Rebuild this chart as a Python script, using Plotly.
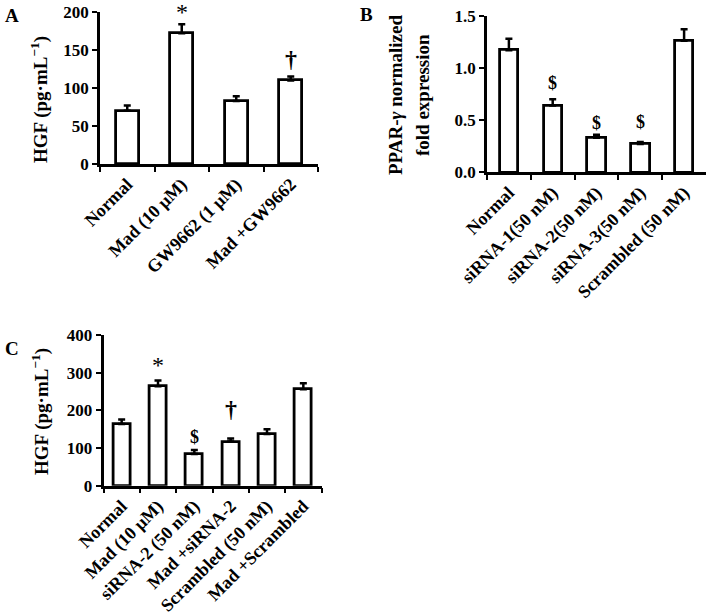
import plotly.graph_objects as go

# ---------------- data ----------------
a_cats = ["Normal", "Mad (10 μM)", "GW9662 (1 μM)", "Mad +GW9662"]
a_vals = [70, 172, 83, 110]
a_errs = [7, 12, 6, 5]

b_cats = ["Normal", "siRNA-1(50 nM)", "siRNA-2(50 nM)", "siRNA-3(50 nM)", "Scrambled (50 nM)"]
b_vals = [1.17, 0.64, 0.33, 0.27, 1.26]
b_errs = [0.11, 0.06, 0.03, 0.02, 0.11]

c_cats = ["Normal", "Mad (10 μM)", "siRNA-2 (50 nM)", "Mad +siRNA-2", "Scrambled (50 nM)", "Mad +Scrambled"]
c_vals = [164, 264, 84, 117, 137, 256]
c_errs = [12, 15, 11, 8, 13, 16]

a_ticks = [0, 50, 100, 150, 200]
b_ticks = [0.0, 0.5, 1.0, 1.5]
b_ticktext = ["0.0", "0.5", "1.0", "1.5"]
c_ticks = [0, 100, 200, 300, 400]

# significance marks: (category index, symbol)
a_marks = [(1, "*"), (3, "†")]
b_marks = [(1, "$"), (2, "$"), (3, "$")]
c_marks = [(1, "*"), (2, "$"), (3, "†")]

W, H = 709, 612
FONT = "Liberation Serif"


def px_x(p):
    return p / W


def px_y(p):
    return 1 - p / H


def bold(s):
    return "<b>" + str(s) + "</b>"


fig = go.Figure()


def add_bars(cats, vals, errs, xa, ya, width):
    fig.add_trace(go.Bar(
        x=cats, y=vals, xaxis=xa, yaxis=ya, width=width,
        marker=dict(color="white", line=dict(color="black", width=2.8)),
        error_y=dict(type="data", symmetric=False, array=errs,
                     arrayminus=[0] * len(errs), color="black",
                     thickness=2.5, width=3.5),
        showlegend=False, hoverinfo="skip",
    ))


add_bars(a_cats, a_vals, a_errs, "x", "y", 0.42)
add_bars(b_cats, b_vals, b_errs, "x2", "y2", 0.42)
add_bars(c_cats, c_vals, c_errs, "x3", "y3", 0.46)

tickfont = dict(family=FONT, size=17, color="black")
xtickfont = dict(family=FONT, size=18, color="black")


def xaxis(domain, anchor, cats):
    return dict(domain=domain, anchor=anchor, type="category",
                range=[-0.5, len(cats) - 0.5], showline=True, linecolor="black",
                linewidth=2.5, ticks="outside", tickson="boundaries",
                tickvals=cats, ticktext=[bold(c) for c in cats],
                ticklen=5, tickwidth=2, tickcolor="black", tickangle=-45,
                tickfont=xtickfont, showgrid=False, zeroline=False,
                automargin=False, ticklabeloverflow="allow")


def yaxis(domain, anchor, rng, tv, tt=None):
    if tt is None:
        tt = [str(v) for v in tv]
    return dict(domain=domain, anchor=anchor, range=rng, showline=True,
                linecolor="black", linewidth=2.5, ticks="outside", ticklen=5,
                tickwidth=2, tickcolor="black", tickvals=tv,
                ticktext=[bold(t) for t in tt], tickfont=tickfont,
                showgrid=False, zeroline=False, automargin=False,
                ticklabeloverflow="allow")


fig.update_layout(
    width=W, height=H, margin=dict(l=0, r=0, t=0, b=0),
    plot_bgcolor="white", paper_bgcolor="white", bargap=0,
    xaxis=xaxis([px_x(100), px_x(318)], "y", a_cats),
    yaxis=yaxis([px_y(164), px_y(12)], "x", [0, 200], a_ticks),
    xaxis2=xaxis([px_x(487), px_x(706)], "y2", b_cats),
    yaxis2=yaxis([px_y(172.3), px_y(15.7)], "x2", [0, 1.5], b_ticks, b_ticktext),
    xaxis3=xaxis([px_x(103.5), px_x(321.5)], "y3", c_cats),
    yaxis3=yaxis([px_y(485.7), px_y(335)], "x3", [0, 400], c_ticks),
)

ann = []
titlefont = dict(family=FONT, size=19, color="black")


def title(text, x, y):
    ann.append(dict(text=bold(text), x=px_x(x), y=px_y(y), xref="paper", yref="paper",
                    xanchor="center", yanchor="middle", textangle=-90,
                    showarrow=False, font=titlefont))


title("HGF (pg·mL<sup>−1</sup>)", 40, 100)
title("PPAR-<i>γ</i> normalized", 395, 95)
title("fold expression", 422, 95)
title("HGF (pg·mL<sup>−1</sup>)", 40, 412)

# panel letters
for letter, lx, ly in [("A", 12, 15), ("B", 366, 14), ("C", 12, 348)]:
    ann.append(dict(text=bold(letter), x=px_x(lx), y=px_y(ly), xref="paper", yref="paper",
                    xanchor="center", yanchor="middle",
                    showarrow=False, font=dict(family=FONT, size=19, color="black")))

sym_font = {"*": dict(family=FONT, size=24, color="black"),
            "$": dict(family=FONT, size=18, color="black"),
            "†": dict(family=FONT, size=24, color="black")}
sym_text = {"*": "*", "$": bold("$"), "†": bold("†")}
sym_shift = {"*": 14, "$": 16, "†": 18}


def add_marks(marks, cats, vals, errs, xr, yr, extra=None):
    for k, (i, s) in enumerate(marks):
        sh = sym_shift[s] + (extra[k] if extra else 0)
        ann.append(dict(text=sym_text[s], x=cats[i], y=vals[i] + errs[i], xref=xr, yref=yr,
                        xanchor="center", yanchor="middle", yshift=sh,
                        showarrow=False, font=sym_font[s]))


add_marks(a_marks, a_cats, a_vals, a_errs, "x", "y", extra=[-2, 0])
add_marks(b_marks, b_cats, b_vals, b_errs, "x2", "y2", extra=[0, -4, 4])
add_marks(c_marks, c_cats, c_vals, c_errs, "x3", "y3", extra=[2, -3, 12])

fig.update_layout(annotations=ann)
fig.write_html("out.html", config={"displayModeBar": False},
               post_script="document.body.style.margin='0';")
